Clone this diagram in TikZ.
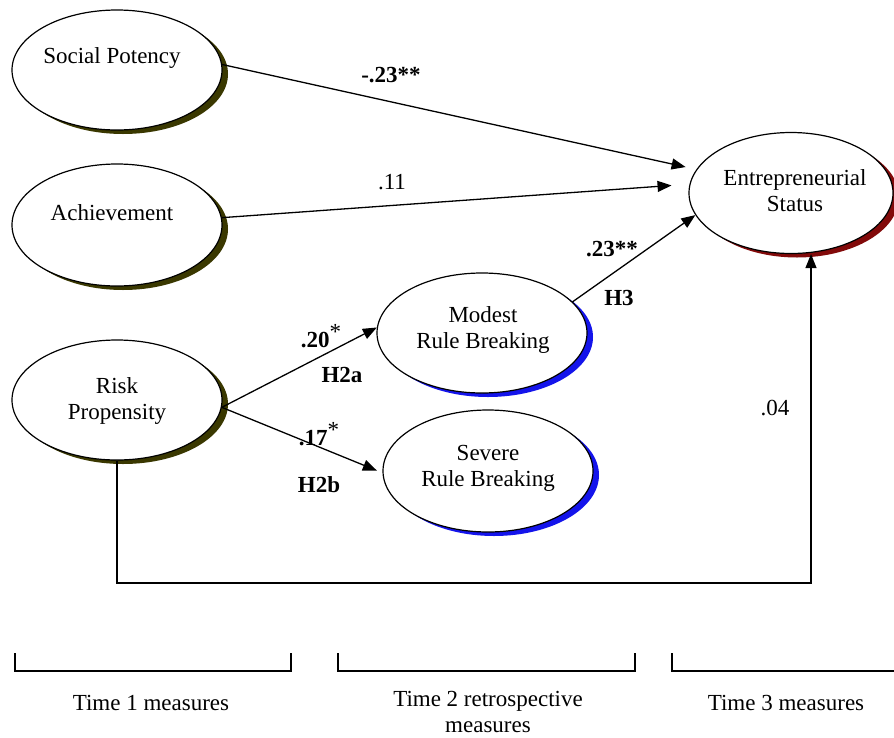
\documentclass[tikz,border=0pt]{standalone}
\usepackage{fontspec}
\setmainfont{Liberation Serif}
\usetikzlibrary{arrows.meta,shapes.geometric,shadows}
\definecolor{olivesh}{RGB}{58,56,0}
\definecolor{bluesh}{RGB}{20,20,235}
\definecolor{redsh}{RGB}{130,10,10}
\newcommand{\sigstar}{\raisebox{8pt}{\mdseries\fontsize{23}{23}\selectfont *}}
\begin{document}
\begin{tikzpicture}[x=1pt,y=-1pt,
  every node/.style={font=\fontsize{23}{26}\selectfont},
  var/.style={ellipse,draw=black,line width=1.2pt,fill=white,inner sep=0pt,minimum width=210pt,minimum height=120pt},
  sh/.style={drop shadow={shadow xshift=6pt,shadow yshift=-4pt,fill=#1,opacity=1,draw=none}},
  txt/.style={align=center,inner sep=0pt},
  lab/.style={inner sep=0pt,font=\fontsize{23}{26}\selectfont\bfseries},
  num/.style={inner sep=0pt},
  conn/.style={line width=1.3pt,-{Triangle[length=14pt,width=11pt]}},
  brk/.style={line width=1.3pt}
]
\useasboundingbox (0,0) rectangle (894,737);
\fill[white] (0,0) rectangle (894,737);

% variables
\node[var,sh=olivesh] (sp) at (117,70) {};
\node[var,sh=olivesh,minimum height=122pt] (ach) at (117,225) {};
\node[var,sh=olivesh] (rp) at (117,400) {};
\node[var,sh=bluesh] (mrb) at (482,333) {};
\node[var,sh=bluesh,minimum height=122pt] (srb) at (488,471) {};
\node[var,sh=redsh,minimum width=204pt,minimum height=121pt] (es) at (791,193) {};

\node[txt] (sptx) at (112,58) {Social Potency};
\node[txt] (achtx) at (112,213) {Achievement};
\node[txt] (rptx) at (117,401) {Risk\\Propensity};
\node[txt] (mrbtx) at (483,330) {Modest\\Rule Breaking};
\node[txt] (srbtx) at (488,468) {Severe\\Rule Breaking};
\node[txt] (estx) at (795,191) {Entrepreneurial\\Status};

% connectors
\draw[conn,shorten >=11pt] (sp.3) -- (es.166);
\draw[conn,shorten >=18pt] (ach.4) -- (es.175);
\draw[conn] (mrb.19) -- (es.193);
\draw[conn] (rp.356) -- (mrb.177);
\draw[conn,shorten >=6pt] (rp.356) -- (srb.181);
\coordinate (c1) at (811,583);
\draw[conn] (rp.south) |- (c1) -- (c1 |- es.south);

% labels
\node[lab] (l1) at (391,75) {-.23**};
\node[num] (l2) at (392,182) {.11};
\node[lab] (l3) at (612,249) {.23**};
\node[lab] (l4) at (619,298) {H3};
\node[lab] (l5) at (321,336) {.20\sigstar};
\node[lab] (l6) at (342,375) {H2a};
\node[lab] (l7) at (319,434) {.17\sigstar};
\node[lab] (l8) at (319,485) {H2b};
\node[num] (l9) at (775,408) {.04};

% time brackets
\draw[brk] (15,653) |- (291,671) -- (291,653);
\draw[brk] (338,653) |- (635,671) -- (635,653);
\draw[brk] (672,653) |- (894,671);
\node[txt] (t1) at (151,703) {Time 1 measures};
\node[txt] (t2) at (488,712) {Time 2 retrospective\\measures};
\node[txt] (t3) at (786,703) {Time 3 measures};
\end{tikzpicture}
\end{document}
